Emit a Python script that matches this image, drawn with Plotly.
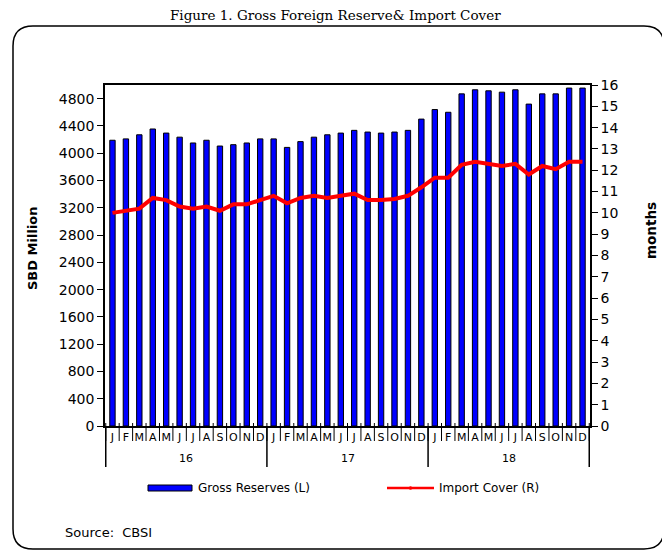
import plotly.graph_objects as go

# ---------------- data ----------------
years = ["16", "17", "18"]
months = ["J", "F", "M", "A", "M", "J", "J", "A", "S", "O", "N", "D"]

gross_reserves = [
    4190, 4210, 4270, 4355, 4295, 4235, 4150, 4190, 4105, 4125, 4150, 4210,
    4210, 4085, 4170, 4235, 4270, 4295, 4335, 4310, 4295, 4310, 4335, 4500,
    4640, 4600, 4870, 4930, 4915, 4895, 4930, 4720, 4870, 4870, 4955, 4955,
]
import_cover = [
    10.0, 10.1, 10.2, 10.7, 10.6, 10.3, 10.2, 10.3, 10.1, 10.4, 10.4, 10.6,
    10.8, 10.45, 10.7, 10.8, 10.7, 10.8, 10.9, 10.6, 10.6, 10.65, 10.8, 11.2,
    11.65, 11.65, 12.25, 12.4, 12.3, 12.2, 12.3, 11.8, 12.2, 12.05, 12.4, 12.4,
]

categories = [f"{y}-{i + 1:02d}" for y in years for i in range(12)]
tick_text = [m for _ in years for m in months]

# ---------------- layout (page has an 8px body margin) ----------------
OFF = 8
W, H = 670 - OFF, 552 - OFF
PL, PR, PT, PB = 105, 590, 85, 426          # plot box in window pixels
ML, MR, MT, MB = PL - OFF, W - (PR - OFF), PT - OFF, H - (PB - OFF)
PW, PH = PR - PL, PB - PT


def px(xp):
    return (xp - PL) / PW


def py(yp):
    return (PB - yp) / PH


FONT = "DejaVu Sans"

fig = go.Figure()
fig.add_trace(go.Bar(
    x=categories, y=gross_reserves, name="Gross Reserves (L)",
    marker=dict(color="#0000FF", line=dict(color="#000000", width=1)),
    showlegend=False,
))
fig.add_trace(go.Scatter(
    x=categories, y=import_cover, name="Import Cover (R)", yaxis="y2",
    mode="lines", line=dict(color="#FF0000", width=4),
    showlegend=False,
))

shapes = []
annotations = []

# month separators
for i in range(len(categories) + 1):
    shapes.append(dict(type="line", xref="x", yref="paper",
                       x0=i - 0.5, x1=i - 0.5, y0=py(423), y1=py(441),
                       line=dict(color="#000000", width=1)))

# year separators and labels
n = len(months)
for k, yr in enumerate(years):
    shapes.append(dict(type="line", xref="x", yref="paper",
                       x0=k * n - 0.5, x1=k * n - 0.5, y0=0, y1=py(467),
                       line=dict(color="#000000", width=1.5)))
    annotations.append(dict(xref="x", yref="paper", x=k * n + (n - 1) / 2, y=py(458),
                            xanchor="center", yanchor="middle",
                            text=yr, showarrow=False,
                            font=dict(family=FONT, size=11, color="#000000")))
shapes.append(dict(type="line", xref="x", yref="paper",
                   x0=len(years) * n - 0.5, x1=len(years) * n - 0.5, y0=0, y1=py(467),
                   line=dict(color="#000000", width=1.5)))

# legend (manual)
shapes.append(dict(type="rect", xref="paper", yref="paper",
                   x0=px(148), x1=px(192), y0=py(491), y1=py(485),
                   fillcolor="#0000FF", line=dict(color="#000000", width=1)))
annotations.append(dict(xref="paper", yref="paper", x=px(196), y=py(488),
                        xanchor="left", yanchor="middle", showarrow=False,
                        text="Gross Reserves (L)",
                        font=dict(family=FONT, size=12, color="#000000")))
shapes.append(dict(type="line", xref="paper", yref="paper",
                   x0=px(387), x1=px(434), y0=py(488), y1=py(488),
                   line=dict(color="#FF0000", width=2.5)))
shapes.append(dict(type="circle", xref="paper", yref="paper",
                   x0=px(409), x1=px(412), y0=py(489.5), y1=py(486.5),
                   fillcolor="#FF0000", line=dict(color="#FF0000", width=0.5)))
annotations.append(dict(xref="paper", yref="paper", x=px(437), y=py(488),
                        xanchor="left", yanchor="middle", showarrow=False,
                        text="Import Cover (R)",
                        font=dict(family=FONT, size=12, color="#000000")))

# axis titles
annotations.append(dict(xref="paper", yref="paper", x=px(32), y=py(248),
                        xanchor="center", yanchor="middle",
                        textangle=-90, showarrow=False, text="<b>SBD Million</b>",
                        font=dict(family=FONT, size=13, color="#000000")))
annotations.append(dict(xref="paper", yref="paper", x=px(651), y=py(231),
                        xanchor="center", yanchor="middle",
                        textangle=-90, showarrow=False, text="<b>months</b>",
                        font=dict(family=FONT, size=13.5, color="#000000")))

# source
annotations.append(dict(xref="paper", yref="paper", x=px(63), y=py(532),
                        xanchor="left", yanchor="middle", showarrow=False,
                        text="Source:  CBSI",
                        font=dict(family=FONT, size=13, color="#000000")))

# title
annotations.append(dict(xref="paper", yref="paper", x=px(335), y=py(15.5),
                        xanchor="center", yanchor="middle", showarrow=False,
                        text="Figure 1. Gross Foreign Reserve& Import Cover",
                        font=dict(family="DejaVu Serif", size=13.5, color="#000000")))

# rounded frame
x0, x1, y0, y1, r = 13, 664, 26, 549, 20
pts = [
    ("M", (x0 + r, y0)), ("L", (x1 - r, y0)), ("Q", (x1, y0), (x1, y0 + r)),
    ("L", (x1, y1 - r)), ("Q", (x1, y1), (x1 - r, y1)),
    ("L", (x0 + r, y1)), ("Q", (x0, y1), (x0, y1 - r)),
    ("L", (x0, y0 + r)), ("Q", (x0, y0), (x0 + r, y0)),
]
path = ""
for item in pts:
    cmd = item[0]
    coords = " ".join(f"{px(a):.5f},{py(b):.5f}" for a, b in item[1:])
    path += f"{cmd} {coords} "
path += "Z"
shapes.append(dict(type="path", xref="paper", yref="paper", path=path,
                   line=dict(color="#000000", width=1.5)))

fig.update_layout(
    width=W, height=H, autosize=False,
    margin=dict(l=ML, r=MR, t=MT, b=MB),
    paper_bgcolor="#FFFFFF", plot_bgcolor="#FFFFFF",
    bargap=0.6,
    showlegend=False,
    xaxis=dict(
        type="category", categoryorder="array", categoryarray=categories,
        tickvals=categories, ticktext=tick_text,
        ticks="",
        showline=True, linecolor="#000000", linewidth=1.5, mirror=True,
        showgrid=False, tickangle=0,
        tickfont=dict(family=FONT, size=11, color="#000000"),
    ),
    yaxis=dict(
        range=[0, 5000], tick0=0, dtick=400, ticks="outside", ticklen=6,
        tickcolor="#000000", showline=True, linecolor="#000000", linewidth=1.5,
        showgrid=False, zeroline=False,
        tickfont=dict(family=FONT, size=14, color="#000000"),
    ),
    yaxis2=dict(
        range=[0, 16], tick0=0, dtick=1, overlaying="y", side="right",
        ticks="outside", ticklen=6, tickcolor="#000000",
        showline=True, linecolor="#000000", linewidth=1.5,
        showgrid=False, zeroline=False,
        tickfont=dict(family=FONT, size=14, color="#000000"),
    ),
    shapes=shapes,
    annotations=annotations,
)

fig.write_html("out.html")
